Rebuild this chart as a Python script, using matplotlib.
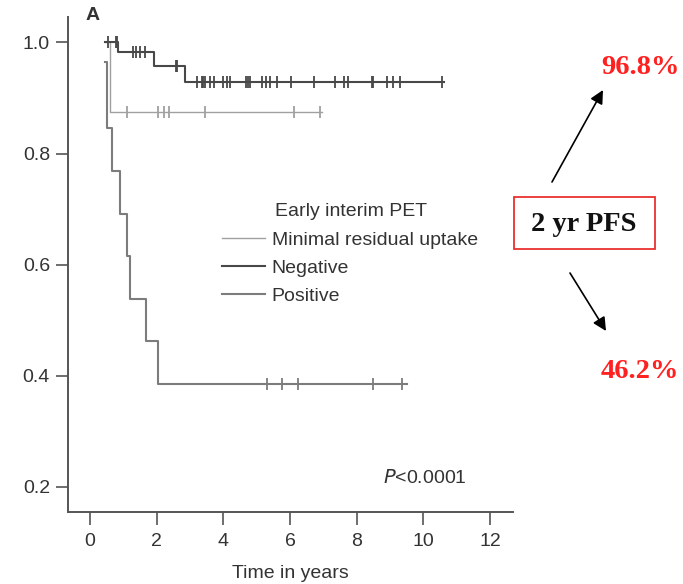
import numpy as np
import matplotlib.pyplot as plt
from matplotlib.lines import Line2D
from matplotlib.patches import FancyArrowPatch, Rectangle

plt.rcParams["font.family"] = ["Liberation Sans", "DejaVu Sans"]

# Kaplan-Meier steps (time in years, survival)
neg_times = [0.45, 0.85, 1.92, 2.85, 10.62]
neg_surv = [1.0, 0.983, 0.958, 0.929, 0.929]
neg_censor = [0.55, 0.77, 0.82, 1.29, 1.38, 1.50, 1.65, 2.58, 2.62,
              3.22, 3.35, 3.40, 3.45, 3.60, 3.72, 4.00, 4.11, 4.20,
              4.67, 4.74, 4.80, 5.15, 5.27, 5.39, 5.61, 6.02, 6.73,
              7.35, 7.61, 7.73, 8.45, 8.49, 8.91, 9.09, 9.30, 10.55]

mru_times = [0.45, 0.60, 6.95]
mru_surv = [1.0, 0.875, 0.875]
mru_censor = [1.10, 2.05, 2.22, 2.37, 3.45, 6.12, 6.90]

pos_times = [0.45, 0.50, 0.65, 0.90, 1.12, 1.20, 1.67, 2.05, 9.50]
pos_surv = [0.965, 0.846, 0.769, 0.692, 0.615, 0.538, 0.462, 0.385, 0.385]
pos_censor = [5.32, 5.75, 6.25, 8.50, 9.35]

groups = ["Minimal residual uptake", "Negative", "Positive"]
group_colors = ["#a0a0a0", "#484848", "#7c7c7c"]
group_widths = [1.0, 1.5, 1.5]

x_ticks = [0, 2, 4, 6, 8, 10, 12]
y_ticks = [0.2, 0.4, 0.6, 0.8, 1.0]

pfs_high = "96.8%"
pfs_low = "46.2%"

W, H = 683, 584
FS = 14


def fx(px):
    return px / W


def fy(py):
    return 1 - py / H


def surv_at(times, surv, t):
    """Value of the step function at time t."""
    idx = np.searchsorted(times, t, side="right") - 1
    return np.asarray(surv)[idx]


def plot_km(ax, times, surv, censor, color, lw, zorder):
    ax.step(times, surv, where="post", color=color, lw=lw, zorder=zorder)
    ax.plot(censor, surv_at(times, surv, censor), ls="none", marker="|",
            ms=8, mew=1.3, color=color, zorder=zorder)


fig = plt.figure(figsize=(6.83, 5.84), dpi=100)
ax = fig.add_axes([0.0996, 0.1233, 0.6515, 0.8477])

plot_km(ax, mru_times, mru_surv, mru_censor, group_colors[0], group_widths[0], 2)
plot_km(ax, pos_times, pos_surv, pos_censor, group_colors[2], group_widths[2], 3)
plot_km(ax, neg_times, neg_surv, neg_censor, group_colors[1], group_widths[1], 4)

ax.set_xlim(-0.66, 12.69)
ax.set_ylim(0.1548, 1.046)
ax.set_xticks(x_ticks)
ax.set_yticks(y_ticks)
ax.set_yticklabels([f"{v:.1f}" for v in y_ticks])
ax.spines["top"].set_visible(False)
ax.spines["right"].set_visible(False)
for s in ["left", "bottom"]:
    ax.spines[s].set_color("#555555")
    ax.spines[s].set_linewidth(1.4)
ax.tick_params(direction="out", length=9, width=1.2, color="#555555",
               labelsize=FS, labelcolor="#333333", pad=4)
ax.tick_params(axis="x", pad=6)
ax.set_xlabel("Time in years", fontsize=FS, color="#333333", labelpad=11)

handles = [Line2D([], [], color=c, lw=w) for c, w in zip(group_colors, group_widths)]
leg = ax.legend(handles, groups, frameon=False,
                loc="upper left", bbox_to_anchor=(0.328, 0.582),
                fontsize=FS, handlelength=2.2,
                handletextpad=0.36, labelspacing=0.53, borderaxespad=0)
for t in leg.get_texts():
    t.set_color("#333333")
ax.text(0.465, 0.606, "Early interim PET", transform=ax.transAxes,
        ha="left", va="center", fontsize=FS, color="#333333")

ax.text(0.897, 0.069, r"$P$<0.0001", transform=ax.transAxes, ha="right",
        va="center", fontsize=FS, color="#333333")
fig.text(fx(93), fy(15), "A", fontsize=FS, fontweight="bold",
         va="center", ha="center", color="#333333")

# annotation on the right
serif = ["Liberation Serif", "DejaVu Serif"]
fig.patches.append(Rectangle((fx(514), fy(249)), fx(655) - fx(514), fy(197) - fy(249),
                             transform=fig.transFigure, fc="white",
                             ec="#e83030", lw=1.3))
fig.text(fx(584), fy(225), "2 yr PFS", family=serif, fontsize=20.5,
         fontweight="bold", ha="center", va="center", color="#111111")
fig.text(fx(640), fy(67), pfs_high, family=serif, fontsize=20.5,
         fontweight="bold", color="#ff2020", ha="center", va="center")
fig.text(fx(640), fy(371), pfs_low, family=serif, fontsize=20.5,
         fontweight="bold", color="#ff2020", ha="center", va="center")
for (x0, y0), (x1, y1) in [((552, 182), (603, 90)), ((570, 273), (606, 331))]:
    arr = FancyArrowPatch((fx(x0), fy(y0)), (fx(x1), fy(y1)),
                          transform=fig.transFigure, arrowstyle="-|>",
                          mutation_scale=20, lw=1.2, color="black",
                          shrinkA=0, shrinkB=0)
    fig.patches.append(arr)

fig.savefig("out.png", dpi=100)
